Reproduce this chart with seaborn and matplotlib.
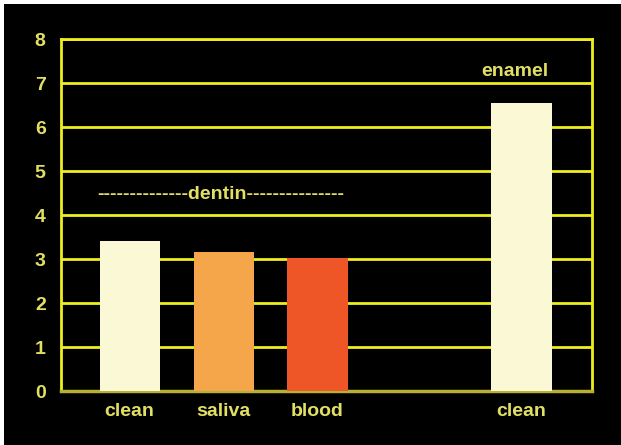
import matplotlib
matplotlib.use("Agg")
import matplotlib.pyplot as plt
import seaborn as sns
import pandas as pd
from matplotlib.patches import Rectangle

categories = ["clean", "saliva", "blood", "clean"]
groups = ["dentin", "dentin", "dentin", "enamel"]
values = [3.41, 3.16, 3.02, 6.55]
slots = [0, 1, 2, 4.17]
bar_colors = ["#fbf8d6", "#f5a54a", "#ee5628", "#fbf8d6"]
yticks = [0, 1, 2, 3, 4, 5, 6, 7, 8]

sns.set_style("dark")
plt.rcParams["font.family"] = ["Liberation Sans", "DejaVu Sans"]

df = pd.DataFrame({"slot": slots, "value": values, "label": categories, "group": groups})

YEL = "#eeee1e"
TXT = "#e2e063"
FS = 14

fig = plt.figure(figsize=(6.21, 4.45), dpi=100, facecolor="black")
ax = fig.add_axes([61/621, 1-391/445, (592-61)/621, (391-39)/445])
ax.set_facecolor("black")

sns.barplot(data=df, x="slot", y="value", hue="slot", palette=bar_colors,
            native_scale=True, width=0.64, legend=False, ax=ax,
            saturation=1, zorder=3, linewidth=0)

ax.set_xlim(-0.73, 4.92)
ax.set_ylim(0, 8)
ax.set_yticks(yticks)
ax.set_xticks(slots)
ax.set_xticklabels(categories)
ax.grid(False)
for y in yticks[1:]:
    ax.axhline(y, color=YEL, lw=2, zorder=1)
for s in ["left", "right", "top"]:
    ax.spines[s].set_visible(True)
    ax.spines[s].set_color(YEL)
    ax.spines[s].set_linewidth(2)
ax.spines["bottom"].set_visible(True)
ax.spines["bottom"].set_color("#b8b034")
ax.spines["bottom"].set_linewidth(2.5)
ax.tick_params(axis="both", length=0, colors=TXT, labelsize=FS)
ax.tick_params(axis="y", pad=11)
ax.tick_params(axis="x", pad=9)
for t in ax.get_xticklabels() + ax.get_yticklabels():
    t.set_fontweight("bold")
    t.set_color(TXT)
ax.set_xlabel("")
ax.set_ylabel("")

ax.text(0.97, 4.47, "--------------dentin---------------", ha="center", va="center",
        color=TXT, fontsize=FS, fontweight="bold")
ax.text(4.1, 7.25, "enamel", ha="center", va="center",
        color=TXT, fontsize=FS, fontweight="bold")

fig.patches.append(Rectangle((0, 1-4/445), 1, 4/445, transform=fig.transFigure,
                             facecolor="white", edgecolor="none"))
fig.patches.append(Rectangle((0, 0), 4/621, 1, transform=fig.transFigure,
                             facecolor="white", edgecolor="none"))

fig.savefig("out.png", dpi=100, facecolor="black")
